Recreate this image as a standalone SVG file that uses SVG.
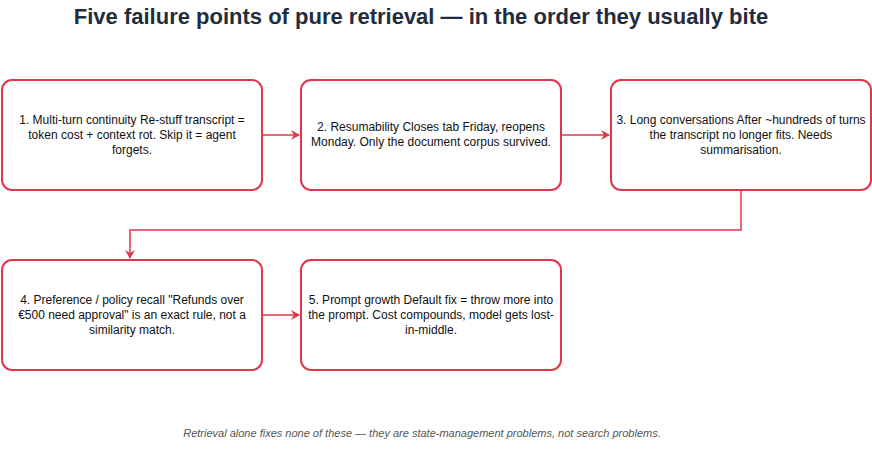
<svg xmlns="http://www.w3.org/2000/svg" width="872" height="450" viewBox="0 0 872 450">
<style>
.n{fill:#fff;stroke:#e0364b;stroke-width:2}
.t{font-family:"Helvetica","Liberation Sans",Arial,sans-serif;font-size:12px;fill:#111;text-anchor:middle}
.c{fill:none;stroke:#e0364b;stroke-width:1.5}
</style>
<defs><marker id="a" markerWidth="10" markerHeight="10" refX="8" refY="5" orient="auto" markerUnits="userSpaceOnUse"><path d="M0,0 L9,5 L0,10 L3,5 Z" fill="#e0364b"/></marker></defs>
<rect width="872" height="450" fill="#fff"/>
<text x="421" y="24" text-anchor="middle" font-family="Helvetica,'Liberation Sans',Arial,sans-serif" font-size="22" font-weight="bold" fill="#1f2d3d">Five failure points of pure retrieval — in the order they usually bite</text>
<g id="connectors">
<path class="c" d="M262,135 H299" marker-end="url(#a)"/>
<path class="c" d="M561,135 H609" marker-end="url(#a)"/>
<path class="c" d="M741,190 V230 H130 V258" marker-end="url(#a)"/>
<path class="c" d="M262,315 H299" marker-end="url(#a)"/>
</g>
<g id="n1"><rect class="n" x="2" y="80" width="260" height="110" rx="10"/><text class="t" x="132" y="124">1. Multi-turn continuity Re-stuff transcript =</text><text class="t" x="132" y="139">token cost + context rot. Skip it = agent</text><text class="t" x="132" y="154">forgets.</text></g>
<g id="n2"><rect class="n" x="301" y="80" width="260" height="110" rx="10"/><text class="t" x="431" y="131">2. Resumability Closes tab Friday, reopens</text><text class="t" x="431" y="146">Monday. Only the document corpus survived.</text></g>
<g id="n3"><rect class="n" x="611" y="80" width="260" height="110" rx="10"/><text class="t" x="741" y="124">3. Long conversations After ~hundreds of turns</text><text class="t" x="741" y="139">the transcript no longer fits. Needs</text><text class="t" x="741" y="154">summarisation.</text></g>
<g id="n4"><rect class="n" x="2" y="260" width="260" height="110" rx="10"/><text class="t" x="132" y="304">4. Preference / policy recall "Refunds over</text><text class="t" x="132" y="319">€500 need approval" is an exact rule, not a</text><text class="t" x="132" y="334">similarity match.</text></g>
<g id="n5"><rect class="n" x="301" y="260" width="260" height="110" rx="10"/><text class="t" x="431" y="304">5. Prompt growth Default fix = throw more into</text><text class="t" x="431" y="319">the prompt. Cost compounds, model gets lost-</text><text class="t" x="431" y="334">in-middle.</text></g>
<text x="422" y="437" text-anchor="middle" font-family="Helvetica,'Liberation Sans',Arial,sans-serif" font-size="11" font-style="italic" fill="#555">Retrieval alone fixes none of these — they are state-management problems, not search problems.</text>
</svg>
